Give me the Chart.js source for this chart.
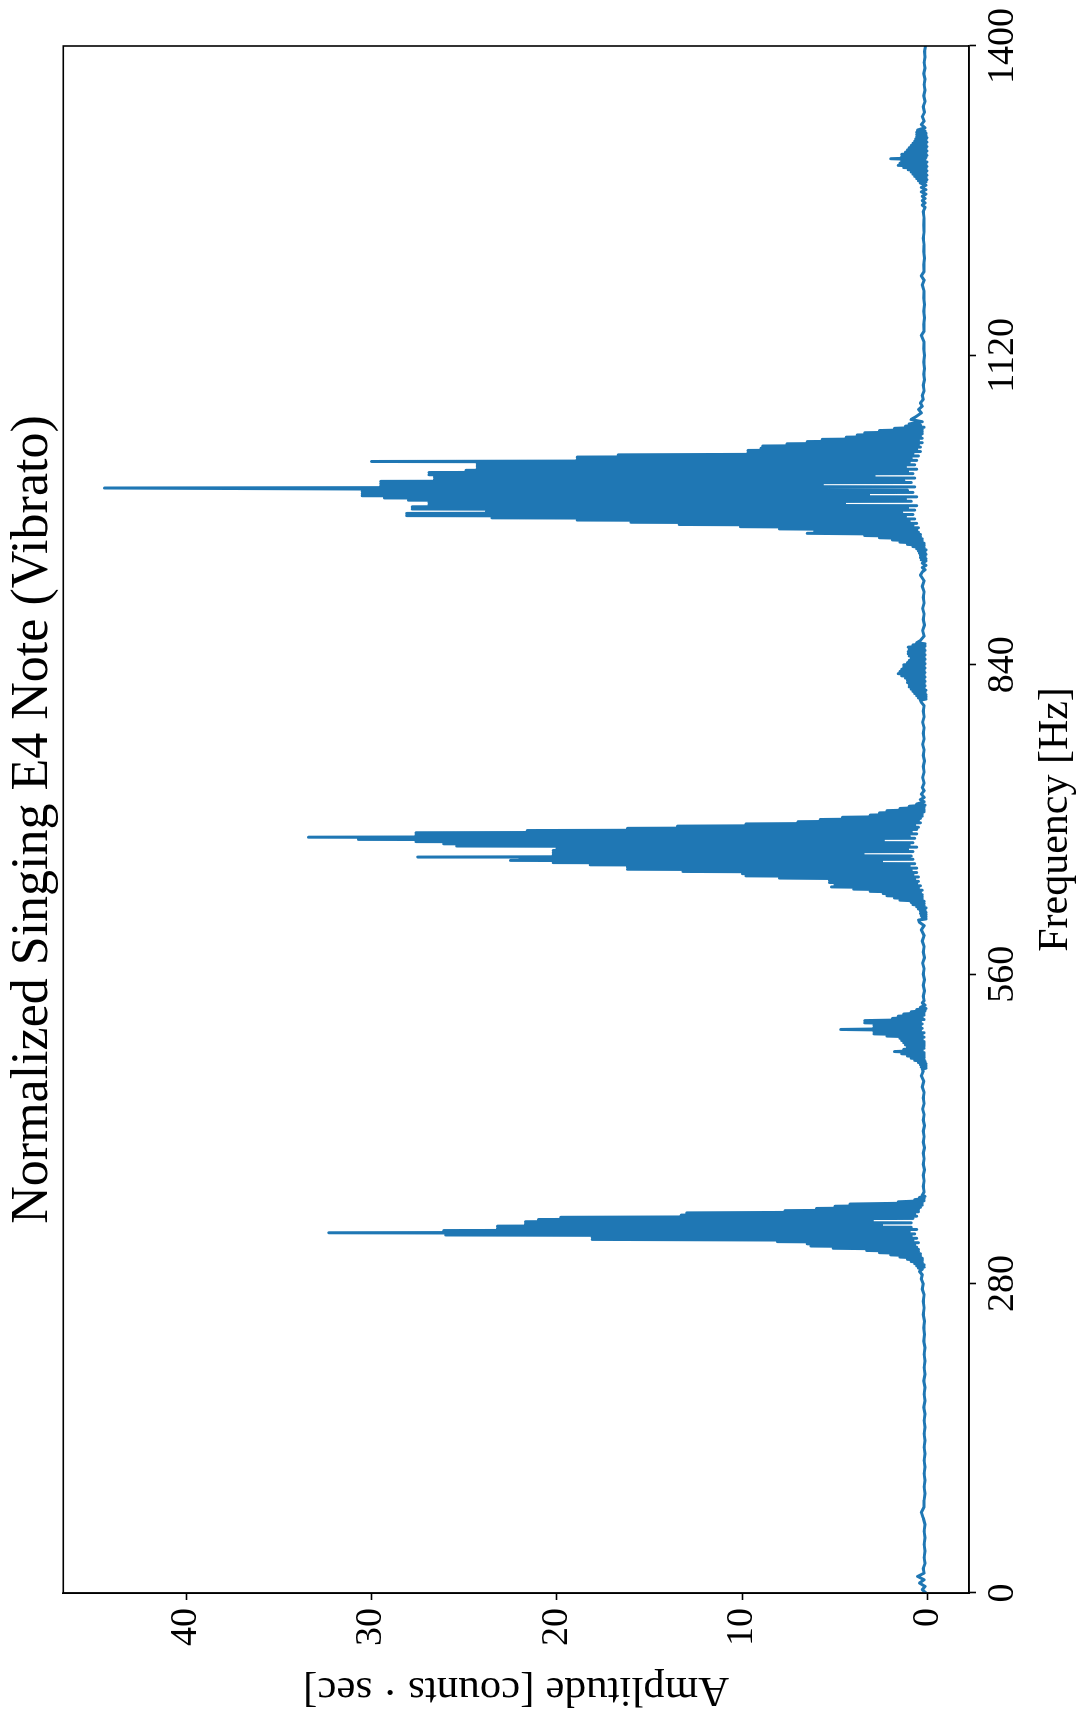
<!DOCTYPE html>
<html>
<head>
<meta charset="utf-8">
<script src="https://cdn.jsdelivr.net/npm/chart.js@4.4.1/dist/chart.umd.min.js"></script>
<style>
    html, body { margin: 0; padding: 0; background: #ffffff; }
    #page { position: relative; width: 1081px; height: 1715px; overflow: hidden; }
    /* the figure is stored sideways: draw it upright, then turn it a quarter left */
    #turn {
        position: absolute; left: 0; top: 0;
        width: 1715px; height: 1081px;
        transform-origin: 0 0;
        transform: translate(0, 1715px) rotate(-90deg);
    }
</style>
</head>
<body>
<div id="page"><div id="turn"><canvas id="spectrum" width="1715" height="1081" style="width:1715px;height:1081px"></canvas></div></div>
<script>
// [Hz, counts*sec], region by region
let baselineLow = [
    [0,0.1],[3,0.3],[6,0.15],[9,0.45],[12,0.2],[15,0.55],[18,0.2],[22,0.25],[27,0.15],[32,0.2],
    [38,0.15],[44,0.2],[50,0.15],[56,0.2],[62,0.15],[68,0.25],[73,0.35],[78,0.2],[84,0.2],[90,0.15],
    [96,0.2],[102,0.15],[108,0.2],[114,0.15],[120,0.2],[126,0.15],[132,0.2],[138,0.15],[144,0.2],[150,0.15],
    [156,0.2],[162,0.15],[168,0.22],[174,0.15],[180,0.2],[186,0.15],[192,0.22],[198,0.15],[204,0.2],[210,0.15],
    [216,0.2],[222,0.15],[228,0.22],[234,0.18],[240,0.22],[246,0.18],[252,0.25],[258,0.2],[264,0.25],[270,0.2],
    [275,0.3],[280,0.25],[284,0.35],[288,0.3],[291,0.45],[293,0.3]
];

let peakFundamental = [
    [294,0.5],[295,0.2],[296,0.6],[297,0.2],[298,0.7],[299,0.3],[300,0.9],[301,0.3],[302,1.1],[303,0.3],
    [304,1.5],[305,0.4],[306,2.0],[307,0.4],[308,2.6],[309,0.5],[310,3.3],[311,0.5],[312,5.1],[313,0.6],
    [314,6.3],[315,0.7],[316,6.5],[317,0.5],[318,8.1],[319,0.8],[320,18.1],[321,0.6],[322,18.1],[323,0.9],
    [324,26.0],[325,0.7],[326,32.3],[327,1.0],[328,26.1],[329,0.6],[330,23.2],[331,0.9],[332,23.2],[333,2.5],
    [334,21.7],[335,0.9],[336,21.7],[337,3.0],[338,21.0],[339,0.8],[340,19.8],[341,0.6],[342,13.3],[343,0.7],
    [344,13.0],[345,0.5],[346,7.7],[347,0.5],[348,6.0],[349,0.4],[350,5.0],[351,0.3],[352,4.2],[353,0.3],
    [354,1.6],[355,0.2],[356,0.7],[357,0.2],[358,0.45],[359,0.15],[360,0.3]
];

let baselineMidA = [
    [363,0.2],[368,0.25],[373,0.2],[378,0.25],[383,0.18],[388,0.25],[393,0.2],[398,0.25],[403,0.18],[408,0.25],
    [413,0.2],[418,0.25],[423,0.18],[428,0.25],[433,0.2],[438,0.28],[443,0.2],[448,0.25],[453,0.2],[458,0.3],
    [463,0.22],[468,0.35],[472,0.25]
];

let bump510 = [
    [474,0.3],[475,0.1],[476,0.35],[477,0.1],[478,0.4],[479,0.1],[480,0.5],[481,0.15],[482,0.7],[483,0.2],
    [484,0.9],[485,0.2],[486,1.1],[487,0.2],[488,1.4],[489,0.2],[490,1.8],[491,0.3],[492,1.3],[493,0.2],
    [494,1.1],[495,0.2],[496,1.2],[497,0.2],[498,1.3],[499,0.2],[500,1.4],[501,0.3],[502,1.5],[503,0.2],
    [504,2.2],[505,0.3],[506,2.9],[507,0.2],[508,2.9],[509,0.4],[510,4.7],[511,0.3],[512,2.9],[513,0.4],
    [514,2.9],[515,0.3],[516,3.4],[517,0.4],[518,3.4],[519,0.2],[520,1.9],[521,0.3],[522,1.6],[523,0.2],
    [524,1.3],[525,0.2],[526,0.9],[527,0.15],[528,0.6],[529,0.1],[530,0.4],[532,0.15],[534,0.3],[536,0.2]
];

let baselineMidB = [
    [540,0.25],[545,0.18],[550,0.25],[555,0.18],[560,0.25],[565,0.2],[570,0.28],[575,0.18],[580,0.25],[585,0.2],
    [590,0.3],[595,0.2],[600,0.35],[604,0.2],[607,0.45]
];

let peakSecond = [
    [609,0.5],[610,0.1],[611,0.3],[612,0.1],[613,0.35],[614,0.1],[615,0.4],[616,0.1],[617,0.4],[618,0.15],
    [619,0.5],[620,0.1],[621,0.6],[622,0.2],[623,0.8],[624,0.2],[625,0.9],[626,0.2],[627,1.5],[628,0.3],
    [629,1.8],[630,0.3],[631,2.2],[632,0.3],[633,2.4],[634,0.4],[635,3.1],[636,0.3],[637,4.0],[638,0.5],
    [639,5.2],[640,0.4],[641,5.0],[642,0.6],[643,5.3],[644,0.5],[645,5.3],[646,0.7],[647,8.0],[648,0.5],
    [649,9.8],[650,0.8],[651,10.0],[652,0.6],[653,13.2],[654,0.9],[655,16.2],[656,0.6],[657,16.2],[658,1.0],
    [659,18.2],[660,0.7],[661,20.2],[662,2.5],[663,22.5],[664,0.8],[665,22.0],[665.5,1.0],[666,27.5],[667,0.9],
    [668,20.2],[669,3.5],[670,20.2],[671,0.8],[672,20.2],[673,1.1],[674,20.0],[675,0.6],[676,25.4],[677,1.0],
    [678,26.1],[679,0.8],[680,27.6],[681,2.4],[682,30.7],[683,0.7],[684,33.4],[685,1.0],[686,27.6],[687,0.6],
    [688,27.6],[689,0.9],[690,21.6],[691,0.6],[692,16.2],[693,0.5],[694,13.5],[695,0.7],[696,9.8],[697,0.4],
    [698,7.0],[699,0.5],[700,5.8],[701,0.4],[702,4.6],[703,0.3],[704,3.1],[705,0.3],[706,2.6],[707,0.2],
    [708,2.2],[709,0.2],[710,1.5],[711,0.2],[712,1.0],[713,0.15],[714,0.6],[716,0.2],[718,0.4],[720,0.2],
    [723,0.35],[726,0.2],[729,0.3]
];

let baselineMidC = [
    [733,0.2],[738,0.28],[743,0.2],[748,0.25],[753,0.18],[758,0.25],[763,0.2],[768,0.28],[773,0.2],[778,0.25],
    [783,0.2],[788,0.28],[793,0.2],[798,0.25],[803,0.2],[806,0.35]
];

let bump830 = [
    [808,0.4],[809,0.1],[810,0.5],[811,0.1],[812,0.6],[813,0.1],[814,0.7],[815,0.15],[816,0.8],[817,0.1],
    [818,0.9],[819,0.2],[820,1.0],[821,0.15],[822,1.0],[823,0.2],[824,1.1],[825,0.15],[826,1.1],[827,0.2],
    [828,1.2],[829,0.15],[830,1.4],[831,0.2],[832,1.6],[833,0.15],[834,1.5],[835,0.2],[836,1.4],[837,0.15],
    [838,1.3],[839,0.2],[840,1.3],[841,0.15],[842,1.1],[843,0.2],[844,1.0],[845,0.15],[846,0.9],[847,0.2],
    [848,1.0],[849,0.15],[850,1.05],[851,0.2],[852,1.05],[853,0.15],[854,1.0],[855,0.2],[856,1.05],[857,0.15],
    [858,0.8],[859,0.15],[860,0.6],[862,0.4]
];

let baselineMidD = [
    [866,0.2],[871,0.28],[876,0.18],[881,0.25],[886,0.2],[891,0.28],[896,0.2],[901,0.25],[906,0.2],[911,0.3],
    [916,0.2],[921,0.4],[924,0.3]
];

let peakThird = [
    [926,0.15],[928,0.3],[930,0.1],[932,0.3],[934,0.1],[935,0.35],[936,0.1],[937,0.4],[938,0.15],[939,0.4],
    [940,0.1],[941,0.45],[942,0.15],[943,0.5],[944,0.1],[945,0.6],[946,0.2],[947,0.8],[948,0.2],[949,1.1],
    [950,0.2],[951,1.5],[952,0.3],[953,1.9],[954,0.3],[955,2.6],[956,0.4],[957,3.4],[958,0.4],[959,6.5],
    [960,0.5],[961,6.1],[962,0.6],[963,8.0],[964,0.5],[965,10.1],[966,0.8],[967,13.4],[968,0.6],[969,16.0],
    [970,1.0],[971,18.9],[972,0.7],[973,23.5],[974,1.2],[975,28.1],[976,0.8],[977,28.1],[978,1.4],[979,23.8],
    [980,0.7],[981,27.8],[982,1.1],[983,27.8],[984,0.6],[985,26.9],[986,4.5],[987,26.9],[988,0.9],[989,28.0],
    [990,1.2],[991,29.3],[992,0.6],[993,30.5],[994,3.2],[995,30.5],[996,0.8],[997,30.5],[998,1.1],[999,29.5],
    [1000,44.4],[1001,0.7],[1002,29.5],[1003,5.7],[1004,29.5],[1005,0.9],[1006,29.5],[1007,1.3],[1008,26.6],[1009,0.7],
    [1010,26.6],[1011,2.9],[1012,26.9],[1013,0.8],[1014,26.9],[1015,1.1],[1016,24.9],[1017,0.6],[1018,24.3],[1019,1.2],
    [1020,24.3],[1021,0.7],[1022,24.3],[1023,1.0],[1024,30.0],[1025,0.6],[1026,18.9],[1027,0.9],[1028,18.9],[1029,0.5],
    [1030,16.7],[1031,0.8],[1032,9.7],[1033,0.4],[1034,9.7],[1035,0.6],[1036,9.0],[1037,0.4],[1038,8.9],[1039,0.5],
    [1040,7.6],[1041,0.3],[1042,6.5],[1043,0.5],[1044,5.7],[1045,0.3],[1046,4.4],[1047,0.4],[1048,3.8],[1049,0.3],
    [1050,3.4],[1051,0.3],[1052,2.6],[1053,0.3],[1054,1.8],[1055,0.2],[1056,1.2],[1057,0.4],[1058,1.0],[1060,0.3],
    [1062,0.9]
];

let baselineHigh = [
    [1065,0.6],[1068,0.35],[1071,0.5],[1074,0.3],[1077,0.4],[1080,0.25],[1084,0.3],[1088,0.2],[1093,0.25],[1098,0.18],
    [1103,0.22],[1108,0.18],[1114,0.22],[1120,0.18],[1126,0.22],[1132,0.2],[1138,0.35],[1142,0.2],[1148,0.22],[1154,0.18],
    [1160,0.22],[1166,0.18],[1172,0.22],[1178,0.2],[1184,0.3],[1188,0.2],[1192,0.35],[1196,0.2],[1202,0.22],[1208,0.18],
    [1214,0.22],[1220,0.2],[1226,0.25],[1232,0.2],[1238,0.22],[1244,0.2],[1250,0.25]
];

let bump1297 = [
    [1254,0.15],[1256,0.3],[1258,0.15],[1260,0.3],[1262,0.15],[1264,0.3],[1266,0.1],[1268,0.35],[1270,0.1],[1272,0.35],
    [1274,0.1],[1276,0.4],[1277,0.1],[1278,0.5],[1279,0.05],[1280,0.6],[1281,0.1],[1282,0.7],[1283,0.05],[1284,0.8],
    [1285,0.1],[1286,0.9],[1287,0.05],[1288,1.05],[1289,0.1],[1290,1.3],[1291,0.05],[1292,1.6],[1293,0.1],[1294,1.5],
    [1295,0.05],[1296,1.4],[1297,0.15],[1298,2.0],[1299,0.1],[1300,1.4],[1301,0.05],[1302,1.4],[1303,0.1],[1304,1.2],
    [1305,0.05],[1306,1.1],[1307,0.1],[1308,1.0],[1309,0.05],[1310,0.9],[1311,0.1],[1312,0.8],[1313,0.05],[1314,0.7],
    [1315,0.1],[1316,0.65],[1317,0.05],[1318,0.6],[1319,0.1],[1320,0.6],[1321,0.1],[1322,0.6],[1323,0.15],[1324,0.55],
    [1326,0.15]
];

let baselineTop = [
    [1329,0.35],[1332,0.2],[1336,0.3],[1340,0.18],[1345,0.25],[1350,0.15],[1355,0.22],[1360,0.15],[1365,0.2],[1370,0.15],
    [1375,0.22],[1380,0.15],[1385,0.2],[1390,0.15],[1395,0.18],[1400,0.12]
];

let freqTicks = [0, 280, 560, 840, 1120, 1400];
let ampTicks = [0, 10, 20, 30, 40];

const spectrum = [].concat(
    baselineLow, peakFundamental, baselineMidA, bump510, baselineMidB, peakSecond,
    baselineMidC, bump830, baselineMidD, peakThird, baselineHigh, bump1297, baselineTop
).map(([hz, amp]) => ({ x: hz, y: amp }));

const serif = "'Liberation Serif', 'DejaVu Serif', serif";

const chartAreaBorder = {
    id: 'chartAreaBorder',
    afterDraw(chart, args, options) {
        const { ctx, chartArea: { left, top, width, height } } = chart;
        ctx.save();
        ctx.strokeStyle = options.borderColor;
        ctx.lineWidth = options.borderWidth;
        ctx.strokeRect(left, top, width, height);
        ctx.restore();
    }
};

const ctx = document.getElementById('spectrum').getContext('2d');

new Chart(ctx, {
    type: 'line',
    plugins: [chartAreaBorder],
    data: {
        datasets: [{
            label: 'spectrum',
            data: spectrum,
            borderColor: '#1f77b4',
            borderWidth: 3,
            borderJoinStyle: 'round',
            pointRadius: 0,
            tension: 0,
            fill: false
        }]
    },
    options: {
        responsive: false,
        animation: false,
        layout: { padding: { left: 0, top: 0, right: 46, bottom: 0 } },
        plugins: {
            legend: { display: false },
            tooltip: { enabled: false },
            chartAreaBorder: { borderColor: '#000000', borderWidth: 1.6 },
            title: {
                display: true,
                fullSize: false,
                text: 'Normalized Singing E4 Note (Vibrato)',
                color: '#000000',
                font: { family: serif, size: 52, weight: 'normal', lineHeight: 1.14 },
                padding: { top: 4, bottom: 0 }
            }
        },
        scales: {
            x: {
                type: 'linear',
                position: 'bottom',
                min: 0,
                max: 1400,
                afterBuildTicks: (scale) => { scale.ticks = freqTicks.map(v => ({ value: v })); },
                afterFit: (scale) => { scale.height = 112; },
                ticks: {
                    autoSkip: false,
                    maxRotation: 0,
                    padding: 4,
                    color: '#000000',
                    font: { family: serif, size: 38 },
                    callback: (value) => String(value)
                },
                grid: { drawOnChartArea: false, drawTicks: true, tickLength: 7, tickWidth: 1.6, tickColor: '#000000' },
                border: { display: true, color: '#000000', width: 1.6 },
                title: {
                    display: true,
                    text: 'Frequency [Hz]',
                    color: '#000000',
                    font: { family: serif, size: 42 },
                    padding: { top: 0, bottom: 0 }
                }
            },
            y: {
                type: 'linear',
                min: -2.22,
                max: 46.62,
                afterBuildTicks: (scale) => { scale.ticks = ampTicks.map(v => ({ value: v })); },
                afterFit: (scale) => { scale.width = 122; },
                ticks: {
                    autoSkip: false,
                    padding: 8,
                    color: '#000000',
                    font: { family: serif, size: 38 },
                    callback: (value) => String(value)
                },
                grid: { drawOnChartArea: false, drawTicks: true, tickLength: 7, tickWidth: 1.6, tickColor: '#000000' },
                border: { display: true, color: '#000000', width: 1.6 },
                title: {
                    display: true,
                    text: 'Amplitude [counts \u00b7 sec]',
                    color: '#000000',
                    font: { family: serif, size: 43 },
                    padding: { top: 0, bottom: 0 }
                }
            }
        }
    }
});
</script>
</body>
</html>
